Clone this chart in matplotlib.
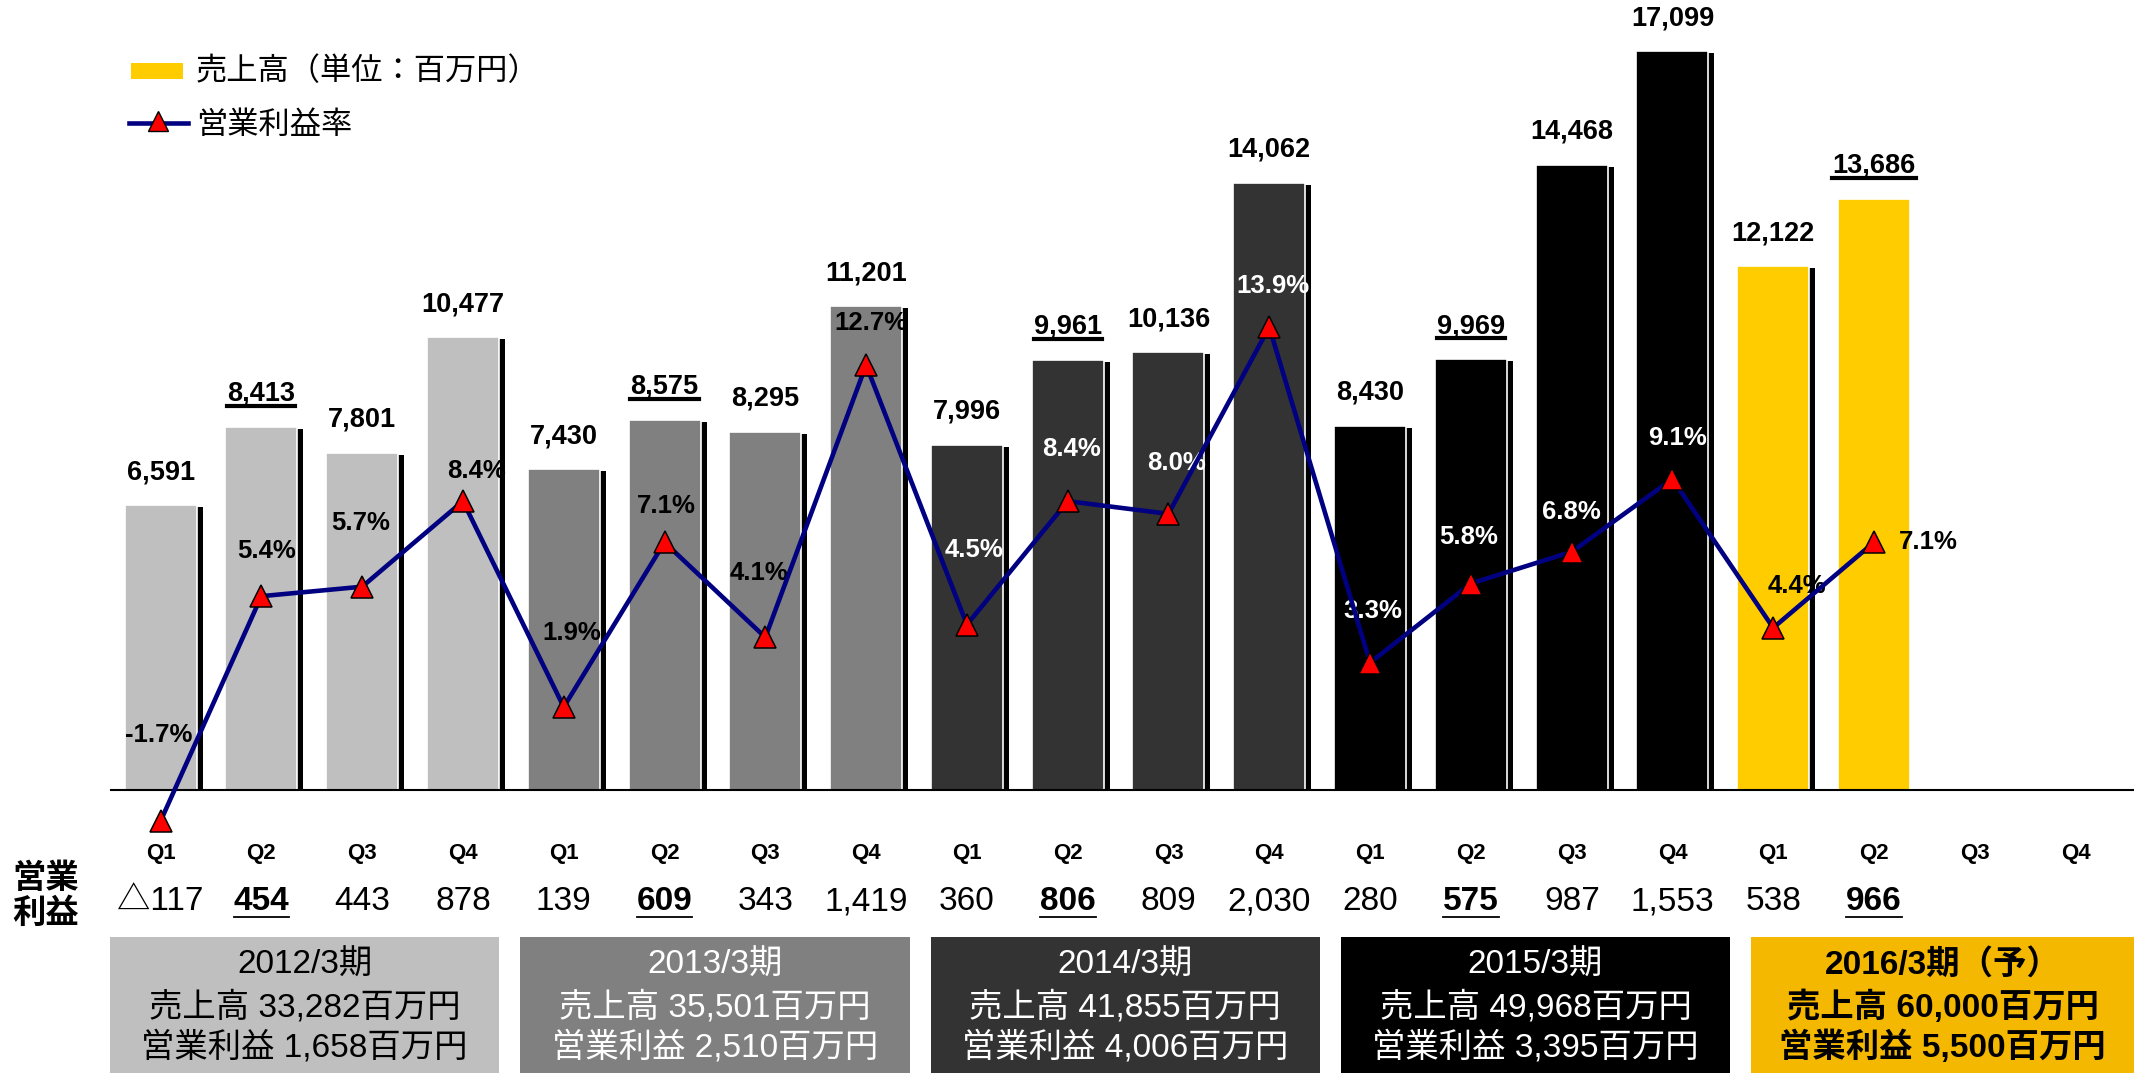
import numpy as np
import matplotlib.pyplot as plt
from matplotlib.patches import Rectangle
from matplotlib.lines import Line2D

plt.rcParams['font.family'] = ['Liberation Sans', 'Noto Sans CJK JP', 'DejaVu Sans']

# 四半期データ（売上高：百万円、営業利益率：%、営業利益：百万円）
quarters = ["Q1", "Q2", "Q3", "Q4"] * 5
sales = [6591, 8413, 7801, 10477,
         7430, 8575, 8295, 11201,
         7996, 9961, 10136, 14062,
         8430, 9969, 14468, 17099,
         12122, 13686]
margin = [-1.7, 5.4, 5.7, 8.4,
          1.9, 7.1, 4.1, 12.7,
          4.5, 8.4, 8.0, 13.9,
          3.3, 5.8, 6.8, 9.1,
          4.4, 7.1]
op_profit = [-117, 454, 443, 878,
             139, 609, 343, 1419,
             360, 806, 809, 2030,
             280, 575, 987, 1553,
             538, 966]

# 通期データ
periods = ["2012/3期", "2013/3期", "2014/3期", "2015/3期", "2016/3期（予）"]
period_sales = [33282, 35501, 41855, 49968, 60000]
period_op = [1658, 2510, 4006, 3395, 5500]

bar_colors = ["#BFBFBF", "#808080", "#333333", "#000000", "#FFCC00"]
box_colors = ["#BFBFBF", "#808080", "#333333", "#000000", "#F5B800"]
box_text_colors = ["black", "white", "white", "white", "black"]
pct_colors = ["black", "black", "white", "white", "black"]

# ラベル位置の微調整（ピクセル）
pct_offsets = [(-2, 86), (5, 45), (-2, 64), (14, 30), (8, 74), (2, 36), (-6, 64), (5, 42),
               (7, 75), (4, 52), (8, 51), (4, 41), (3, 52), (-2, 47), (0, 40), (5, 41),
               (24, 42), (54, 0)]

W, H = 2134, 1077
fig = plt.figure(figsize=(W / 100, H / 100), dpi=100)

def fx(px):
    return px / W

def fy(py):
    return 1 - py / H

ax = fig.add_axes([fx(111), fy(790), fx(2134 - 111), 790 / H])
ax.set_xlim(-0.492, 19.58)
ax.set_ylim(0, 18287)
for s in ["top", "right", "left"]:
    ax.spines[s].set_visible(False)
ax.spines["bottom"].set_linewidth(1.5)
ax.set_xticks([])
ax.set_yticks([])

ax2 = ax.twinx()
ax2.set_ylim(-0.72, 24.225)
ax2.axis("off")

n = len(sales)
x = np.arange(n)
bw = 0.714
underline_items = []

for i in range(n):
    g = i // 4
    # 影
    if i != n - 1:
        ax.add_patch(Rectangle((x[i] - bw / 2 + 0.06, -46), bw, sales[i],
                               facecolor="black", edgecolor="none", zorder=1))
    ax.add_patch(Rectangle((x[i] - bw / 2, 0), bw, sales[i],
                           facecolor=bar_colors[g], edgecolor="white", lw=1.2, zorder=2))
    t = ax.annotate(f"{sales[i]:,}", (x[i], sales[i]), xytext=(0, 33),
                    textcoords="offset pixels", ha="center", va="center",
                    fontsize=19.5, fontweight="bold", zorder=5)
    if i % 4 == 1:
        underline_items.append((t, 3.0))

    dx, dy = pct_offsets[i]
    ax.annotate(f"{margin[i]:.1f}%", (x[i], margin[i]), xycoords=ax2.transData,
                xytext=(dx, dy), textcoords="offset pixels", ha="center", va="center",
                fontsize=18.5, fontweight="bold", color=pct_colors[g], zorder=6,
                annotation_clip=False)

ax2.plot(x, margin, color="#000080", lw=3.3, marker="^", ms=16.5,
         mfc="red", mec="black", mew=1.1, clip_on=False, zorder=3)

# 四半期ラベルと営業利益
for i in range(20):
    cx = 160.6 + 100.8 * i
    fig.text(fx(cx), fy(854), quarters[i], ha="center", va="center",
             fontsize=16, fontweight="bold")
for i in range(n):
    cx = 160.6 + 100.8 * i
    v = op_profit[i]
    label = f"△{abs(v):,}" if v < 0 else f"{v:,}"
    bold = i % 4 == 1
    t = fig.text(fx(cx), fy(902), label, ha="center", va="center", fontsize=24,
                 fontweight="bold" if bold else "normal")
    if bold:
        underline_items.append((t, 1.3))

fig.text(fx(46), fy(896), "営業\n利益", ha="center", va="center", fontsize=24,
         fontweight="bold", linespacing=1.1, family=["Noto Sans CJK JP"])

# 通期ボックス
for k in range(5):
    left = 160.6 + 100.8 * (-0.5 + 4.07 * k)
    right = min(left + 100.8 * 3.86, W)
    fig.add_artist(Rectangle((fx(left), fy(1073)), fx(right - left), (1073 - 937) / H,
                             facecolor=box_colors[k], edgecolor="none"))
    cx = (left + right) / 2
    wt = "bold" if k == 4 else "normal"
    c = box_text_colors[k]
    fig.text(fx(cx), fy(965), periods[k], ha="center", va="center", fontsize=24,
             color=c, fontweight=wt)
    fig.text(fx(cx), fy(1007), f"売上高 {period_sales[k]:,}百万円", ha="center",
             va="center", fontsize=24, color=c, fontweight=wt)
    fig.text(fx(cx), fy(1047), f"営業利益 {period_op[k]:,}百万円", ha="center",
             va="center", fontsize=24, color=c, fontweight=wt)

# 凡例
fig.add_artist(Rectangle((fx(131), fy(79)), fx(52), 16 / H, facecolor="#FFCC00",
                         edgecolor="none"))
fig.text(fx(196), fy(71), "売上高（単位：百万円）", va="center", fontsize=22.5,
         family=["Noto Sans CJK JP"])
fig.add_artist(Line2D([fx(129), fx(188)], [fy(123), fy(123)], color="#000080", lw=3.3))
fig.add_artist(Line2D([fx(158)], [fy(121)], marker="^", ms=15, mfc="red",
                      mec="black", mew=1.0))
fig.text(fx(196), fy(125), "営業利益率", va="center", fontsize=22.5,
         family=["Noto Sans CJK JP"])

# 下線
fig.canvas.draw()
renderer = fig.canvas.get_renderer()
inv = fig.transFigure.inverted()
for t, lw in underline_items:
    bb = t.get_window_extent(renderer)
    (x0, y0), (x1, _) = inv.transform([(bb.x0, bb.y0 + 1), (bb.x1, bb.y0)])
    fig.add_artist(Line2D([x0, x1], [y0, y0], color="black", lw=lw))

fig.savefig("out.png", dpi=100, facecolor="white")
